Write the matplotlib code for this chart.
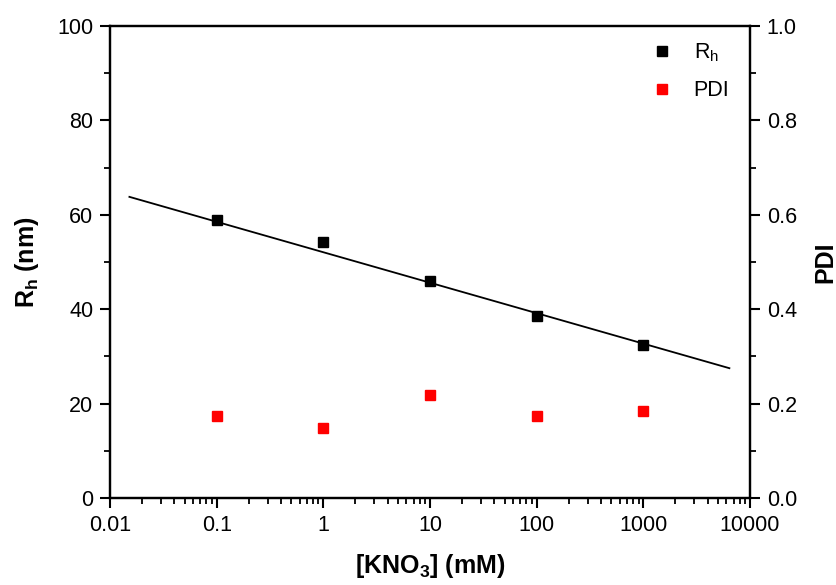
import matplotlib; matplotlib.use("Agg")
import matplotlib.pyplot as plt
from matplotlib.ticker import LogLocator, FixedLocator, NullFormatter

plt.rcParams.update({
    "font.family": "Liberation Sans", "mathtext.fontset": "custom",
    "mathtext.rm": "Liberation Sans", "mathtext.bf": "Liberation Sans:bold",
    "mathtext.it": "Liberation Sans", "font.size": 15.5,
})

# data
conc = [0.1, 1, 10, 100, 1000]              # [KNO3] mM
rh = [58.9, 54.2, 46.0, 38.6, 32.4]         # nm
pdi = [0.173, 0.149, 0.219, 0.173, 0.185]
fit_x = [0.0152, 6400]                      # linear fit (log x) endpoints
fit_y = [63.8, 27.5]

fig = plt.figure(figsize=(8.36, 5.85), dpi=100)
ax = fig.add_axes([0.1316, 0.1487, 0.7656, 0.8069])
ax2 = ax.twinx()

ax.plot(fit_x, fit_y, color="black", lw=1.3, zorder=2)
ax.plot(conc, rh, "s", color="black", ms=6.5, zorder=3, label=r"R$_\mathregular{h}$")
ax2.plot(conc, pdi, "s", color="red", ms=6.5, label="PDI")

ax.set_xscale("log")
ax.set_xlim(0.01, 10000)
ax.set_ylim(0, 100)
ax2.set_ylim(0, 1.0)
ax.set_xticks([0.01, 0.1, 1, 10, 100, 1000, 10000])
ax.set_xticklabels(["0.01", "0.1", "1", "10", "100", "1000", "10000"])
ax.xaxis.set_minor_locator(LogLocator(base=10, subs=range(2, 10), numticks=20))
ax.xaxis.set_minor_formatter(NullFormatter())
ax.set_yticks(range(0, 101, 20))
ax.yaxis.set_minor_locator(FixedLocator(range(10, 100, 20)))
ax2.set_yticks([0, 0.2, 0.4, 0.6, 0.8, 1.0])
ax2.set_yticklabels(["0.0", "0.2", "0.4", "0.6", "0.8", "1.0"])
ax2.yaxis.set_minor_locator(FixedLocator([0.1, 0.3, 0.5, 0.7, 0.9]))

for a in (ax, ax2):
    for s in a.spines.values():
        s.set_linewidth(1.6)
    a.tick_params(which="major", direction="out", length=7, width=1.5, labelsize=15.5, pad=5)
    a.tick_params(which="minor", direction="out", length=4, width=1.3)

ax.set_xlabel(r"[KNO$_\mathregular{3}$] (mM)", fontsize=18, fontweight="bold", labelpad=12)
ax.set_ylabel(r"R$_\mathregular{h}$ (nm)", fontsize=18, fontweight="bold", labelpad=12)
ax2.set_ylabel("PDI", fontsize=18, fontweight="bold", labelpad=12)

h1, l1 = ax.get_legend_handles_labels()
h2, l2 = ax2.get_legend_handles_labels()
ax2.legend(h1 + h2, l1 + l2, loc="upper right", frameon=False, fontsize=15.5,
           handlelength=1.0, handletextpad=0.95, labelspacing=0.75,
           bbox_to_anchor=(0.998, 1.008))

fig.savefig("out.png", dpi=100)
